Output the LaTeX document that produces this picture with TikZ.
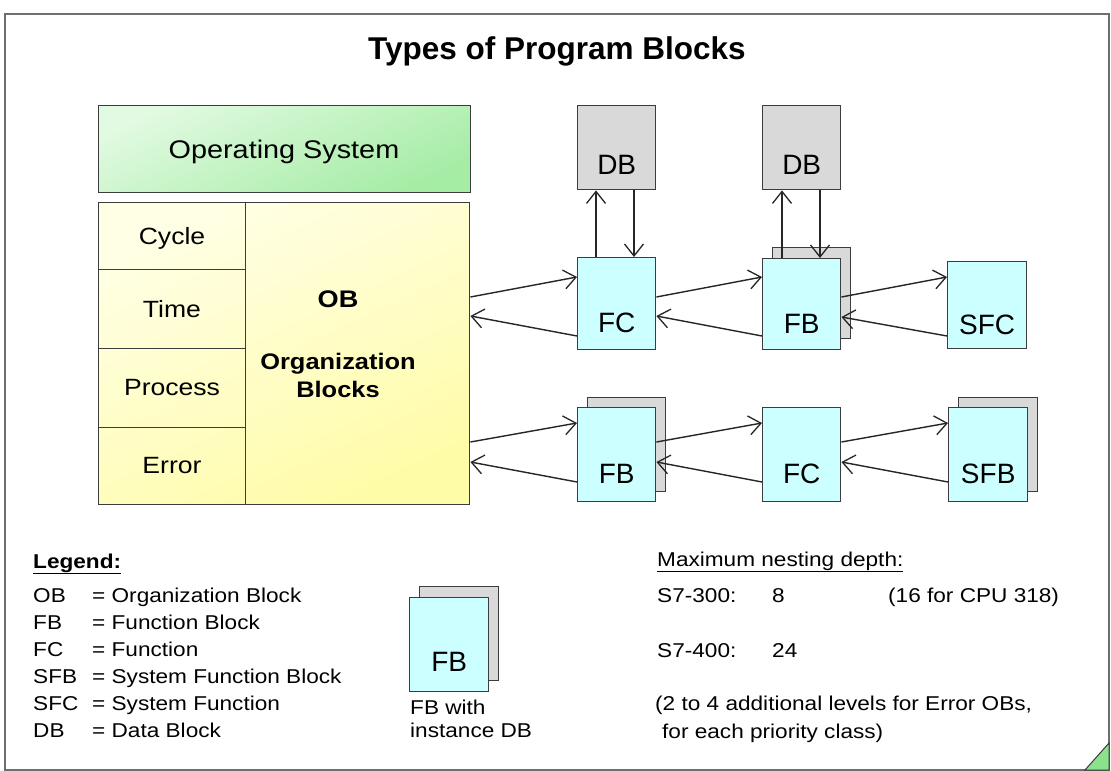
\documentclass[tikz,border=0pt]{standalone}
\usepackage{fontspec}
\setmainfont{Liberation Sans}[FakeStretch=1.13]
\newfontfamily\plainsans{Liberation Sans}
\usetikzlibrary{arrows.meta,calc}

\definecolor{frameline}{RGB}{110,110,110}
\definecolor{boxline}{RGB}{60,60,60}
\definecolor{osgreenA}{RGB}{225,250,225}
\definecolor{osgreenB}{RGB}{165,236,165}
\definecolor{obyellowA}{RGB}{255,255,230}
\definecolor{obyellowB}{RGB}{255,252,168}
\definecolor{blockcyan}{RGB}{204,255,255}
\definecolor{dbgray}{RGB}{217,217,217}
\definecolor{curlgreen}{RGB}{140,225,140}

\begin{document}
\begin{tikzpicture}[x=1pt,y=-1pt,
  box/.style={draw=boxline, line width=1.4pt, inner sep=0pt, anchor=north west},
  cbox/.style={box, fill=blockcyan, minimum width=78, minimum height=92},
  sbox/.style={box, fill=dbgray, minimum width=78, minimum height=92},
  dbox/.style={box, fill=dbgray, minimum width=78, minimum height=84},
  cell/.style={box, minimum width=147},
  blk/.style={font=\plainsans\fontsize{28}{28}\selectfont, anchor=base, inner sep=0pt},
  kind/.style={font=\fontsize{23.5}{24}\selectfont, anchor=base, inner sep=0pt},
  obtext/.style={font=\bfseries\fontsize{22.5}{24}\selectfont, anchor=base, inner sep=0pt},
  leg/.style={font=\fontsize{20}{24}\selectfont, anchor=base west, inner sep=0pt},
  call/.style={draw=black!85, line width=1.4pt,
    -{Straight Barb[length=12pt,width=19pt,line width=1.3pt]}},
]
\useasboundingbox (0,0) rectangle (1111,771);
\fill[white] (0,0) rectangle (1111,771);

% page frame and folded corner
\draw[frameline, line width=2pt] (5,14) rectangle (1109,770);
\filldraw[fill=curlgreen, draw=boxline, line width=1pt]
  (1085,770) -- (1109,743) -- (1109,770) -- cycle;

% title
\node[font=\plainsans\bfseries\fontsize{31.5}{32}\selectfont, anchor=base, inner sep=0pt]
  (title) at (557,59) {Types of Program Blocks};

% operating system
\node[box, minimum width=372, minimum height=87,
  top color=osgreenA, bottom color=osgreenB, shading angle=25] (os) at (98,105) {};
\node[font=\fontsize{25.5}{26}\selectfont, anchor=base, inner sep=0pt]
  (ostext) at (284,158) {Operating System};

% organization blocks area
\shade[top color=obyellowA, bottom color=obyellowB, shading angle=25]
  (98,202) rectangle (469,504);
\node[cell, minimum height=67] (cycle) at (98,202) {};
\node[cell, minimum height=79] (time) at (98,269) {};
\node[cell, minimum height=79] (process) at (98,348) {};
\node[cell, minimum height=77] (error) at (98,427) {};
\node[box, minimum width=224, minimum height=302] (ob) at (245,202) {};
\node[kind] at (172,244) {Cycle};
\node[kind] at (172,317) {Time};
\node[kind] at (172,395) {Process};
\node[kind] at (172,473) {Error};
\node[obtext, font=\bfseries\fontsize{24}{24}\selectfont] at (338,307) {OB};
\node[obtext] at (338,369) {Organization};
\node[obtext] at (338,397) {Blocks};

% data blocks
\node[dbox] (db1) at (577,105) {};
\node[blk] at ($(db1.south)+(0,-16)$) {DB};
\node[dbox] (db2) at (762,105) {};
\node[blk] at ($(db2.south)+(0,-16)$) {DB};

% upper call chain
\node[cbox] (fc1) at (577,257) {};
\node[blk] at ($(fc1.south)+(0,-18)$) {FC};
\node[sbox, minimum height=91] (fb1s) at (772,247) {};
\node[cbox, minimum height=91] (fb1) at (762,258) {};
\node[blk] at ($(fb1.south)+(0,-17)$) {FB};
\node[cbox, minimum height=87, minimum width=79] (sfc) at (947,261) {};
\node[blk] at ($(sfc.south)+(0,-15)$) {SFC};

% lower call chain
\node[sbox, minimum height=94] (fb2s) at (587,397) {};
\node[cbox, minimum height=94] (fb2) at (577,407) {};
\node[blk] at ($(fb2.south)+(0,-19)$) {FB};
\node[cbox, minimum height=94] (fc2) at (762,407) {};
\node[blk] at ($(fc2.south)+(0,-19)$) {FC};
\node[sbox, minimum height=94, minimum width=79] (sfbs) at (958,397) {};
\node[cbox, minimum height=94, minimum width=79] (sfb) at (948,407) {};
\node[blk] at ($(sfb.south)+(0,-19)$) {SFB};

% calls and returns, upper chain
\draw[call] ($(ob.north east)+(0,95)$) -- ($(fc1.north west)+(0,20)$);
\draw[call] ($(fc1.north west)+(0,79)$) -- ($(ob.north east)+(0,114)$);
\draw[call] ($(fc1.north east)+(0,40)$) -- ($(fb1.north west)+(0,19)$);
\draw[call] ($(fb1.north west)+(0,78)$) -- ($(fc1.north east)+(0,59)$);
\draw[call] ($(fb1.north east)+(0,39)$) -- ($(sfc.north west)+(0,16)$);
\draw[call] ($(sfc.north west)+(0,75)$) -- ($(fb1.north east)+(0,59)$);

% calls and returns, lower chain
\draw[call] ($(ob.north east)+(0,240)$) -- ($(fb2.north west)+(0,16)$);
\draw[call] ($(fb2.north west)+(0,75)$) -- ($(ob.north east)+(0,260)$);
\draw[call] ($(fb2.north east)+(0,35)$) -- ($(fc2.north west)+(0,16)$);
\draw[call] ($(fc2.north west)+(0,75)$) -- ($(fb2.north east)+(0,55)$);
\draw[call] ($(fc2.north east)+(0,35)$) -- ($(sfb.north west)+(0,16)$);
\draw[call] ($(sfb.north west)+(0,75)$) -- ($(fc2.north east)+(0,55)$);

% data block accesses
\draw[call] ($(fc1.north west)+(19,0)$) -- ($(db1.south west)+(19,0)$);
\draw[call] ($(db1.south west)+(57,0)$) -- ($(fc1.north west)+(57,0)$);
\draw[call] ($(fb1.north west)+(20,0)$) -- ($(db2.south west)+(20,0)$);
\draw[call] ($(db2.south west)+(58,0)$) -- ($(fb1.north west)+(58,0)$);

% legend
\node[leg, font=\bfseries\fontsize{20}{24}\selectfont] (legtitle) at (33,568) {\underline{Legend:}};
\node[leg] at (33,602) {OB};  \node[leg] at (92,602) {= Organization Block};
\node[leg] at (33,629) {FB};  \node[leg] at (92,629) {= Function Block};
\node[leg] at (33,656) {FC};  \node[leg] at (92,656) {= Function};
\node[leg] at (33,683) {SFB}; \node[leg] at (92,683) {= System Function Block};
\node[leg] at (33,710) {SFC}; \node[leg] at (92,710) {= System Function};
\node[leg] at (33,737) {DB};  \node[leg] at (92,737) {= Data Block};

% legend symbol: FB with instance DB
\node[sbox, minimum width=79, minimum height=94] (legfbs) at (419,586) {};
\node[cbox, minimum width=79, minimum height=94] (legfb) at (409,597) {};
\node[blk] at ($(legfb.south)+(0,-21)$) {FB};
\node[leg] at (410,714) {FB with};
\node[leg] at (410,737) {instance DB};

% nesting depth
\node[leg] (nest) at (657,566) {\underline{Maximum nesting depth:}};
\node[leg] at (657,602) {S7-300:};
\node[leg] at (772,602) {8};
\node[leg] at (888,602) {(16 for CPU 318)};
\node[leg] at (657,657) {S7-400:};
\node[leg] at (772,657) {24};
\node[leg] at (655,710) {(2 to 4 additional levels for Error OBs,};
\node[leg] at (662,738) {for each priority class)};
\end{tikzpicture}
\end{document}
